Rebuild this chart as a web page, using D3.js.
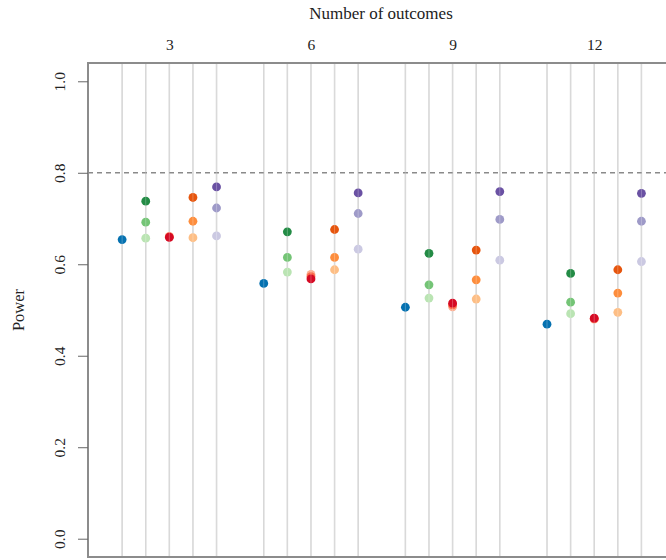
<!DOCTYPE html>
<html><head><meta charset="utf-8">
<script src="https://cdn.jsdelivr.net/npm/d3@7"></script>
<style>body{margin:0;background:#fff}svg{display:block}</style>
</head><body>
<svg id="chart" width="666" height="560"></svg>
<script>
const outcomes = [3, 6, 9, 12];
const yTicks = [0.0, 0.2, 0.4, 0.6, 0.8, 1.0];
const threshold = 0.8;

const blue        = [0.654, 0.558, 0.506, 0.469];
const greenDark   = [0.738, 0.671, 0.624, 0.580];
const greenMid    = [0.692, 0.615, 0.555, 0.517];
const greenLight  = [0.657, 0.583, 0.526, 0.492];
const redLight    = [0.661, 0.578, 0.507, 0.480];
const redMid      = [0.660, 0.573, 0.511, 0.481];
const redDark     = [0.659, 0.568, 0.515, 0.482];
const orangeDark  = [0.746, 0.676, 0.631, 0.588];
const orangeMid   = [0.694, 0.615, 0.566, 0.537];
const orangeLight = [0.658, 0.588, 0.524, 0.495];
const purpleDark  = [0.769, 0.756, 0.759, 0.755];
const purpleMid   = [0.723, 0.711, 0.698, 0.694];
const purpleLight = [0.662, 0.633, 0.609, 0.606];

const columnOffsets = [-1, -0.5, 0, 0.5, 1];

const series = [
  {values: blue,        offset: -1,   color: "#0571b0"},
  {values: greenLight,  offset: -0.5, color: "#bae4b3"},
  {values: greenMid,    offset: -0.5, color: "#74c476"},
  {values: greenDark,   offset: -0.5, color: "#238b45"},
  {values: redLight,    offset: 0,    color: "#fcae91"},
  {values: redMid,      offset: 0,    color: "#fb6a4a"},
  {values: redDark,     offset: 0,    color: "#d50a24"},
  {values: orangeLight, offset: 0.5,  color: "#fdbe85"},
  {values: orangeMid,   offset: 0.5,  color: "#fd8d3c"},
  {values: orangeDark,  offset: 0.5,  color: "#e6550d"},
  {values: purpleLight, offset: 1,    color: "#cbc9e2"},
  {values: purpleMid,   offset: 1,    color: "#9e9ac8"},
  {values: purpleDark,  offset: 1,    color: "#6a51a3"}
];

const svg = d3.select("#chart");
const L = 88, R = 674, T = 63, B = 557;
const x = d3.scaleLinear().domain([1.277, 13.69]).range([L, R]);
const y = d3.scaleLinear().domain([-0.04, 1.04]).range([B, T]);
const font = "'Liberation Serif', 'Times New Roman', serif";

// vertical grid lines
const cols = [];
outcomes.forEach(o => columnOffsets.forEach(d => cols.push(o + d)));
svg.append("g").selectAll("line").data(cols).join("line")
  .attr("x1", d => x(d)).attr("x2", d => x(d))
  .attr("y1", T).attr("y2", B)
  .attr("stroke", "#cfcfcf").attr("stroke-width", 1.5);

// threshold dashed line
svg.append("line")
  .attr("x1", L).attr("x2", R)
  .attr("y1", y(threshold)).attr("y2", y(threshold))
  .attr("stroke", "#8a8a8a").attr("stroke-width", 1.5)
  .attr("stroke-dasharray", "5,4");

// points
series.forEach(s => {
  svg.append("g").selectAll("circle").data(outcomes.map((o, i) => ({o, v: s.values[i]})))
    .join("circle")
    .attr("cx", d => x(d.o + s.offset))
    .attr("cy", d => y(d.v))
    .attr("r", 4.4)
    .attr("fill", s.color);
});

// faint line overlay through points
svg.append("g").selectAll("line").data(cols).join("line")
  .attr("x1", d => x(d)).attr("x2", d => x(d))
  .attr("y1", T).attr("y2", B)
  .attr("stroke", "rgba(255,255,255,0.25)").attr("stroke-width", 1);

// box
svg.append("rect").attr("x", L).attr("y", T).attr("width", R - L).attr("height", B - T)
  .attr("fill", "none").attr("stroke", "#8c8c8c").attr("stroke-width", 2);

// y axis
const yAxis = svg.append("g").attr("transform", `translate(${L},0)`)
  .call(d3.axisLeft(y).tickValues(yTicks).tickSize(10).tickFormat(d3.format(".1f")));
yAxis.select(".domain").remove();
yAxis.selectAll(".tick line").attr("stroke", "#666").attr("stroke-width", 1);
yAxis.selectAll(".tick text")
  .attr("x", null).attr("dy", null)
  .attr("transform", "translate(-29,0) rotate(-90)")
  .attr("text-anchor", "middle")
  .attr("dominant-baseline", "central")
  .style("font-family", font).style("font-size", "15.5px").attr("fill", "#222");

// top axis labels
const xAxis = svg.append("g").attr("transform", `translate(0,${T})`)
  .call(d3.axisTop(x).tickValues(outcomes).tickSize(0).tickPadding(13));
xAxis.select(".domain").remove();
xAxis.selectAll(".tick text")
  .style("font-family", font).style("font-size", "15.5px").attr("fill", "#222");

// titles
svg.append("text").attr("x", (L + R) / 2).attr("y", 19)
  .attr("text-anchor", "middle")
  .style("font-family", font).style("font-size", "17px").attr("fill", "#222")
  .text("Number of outcomes");

svg.append("text")
  .attr("transform", `translate(18,${(T + B) / 2}) rotate(-90)`)
  .attr("text-anchor", "middle").attr("dominant-baseline", "central")
  .style("font-family", font).style("font-size", "16.5px").attr("fill", "#222")
  .text("Power");
</script>
</body></html>
